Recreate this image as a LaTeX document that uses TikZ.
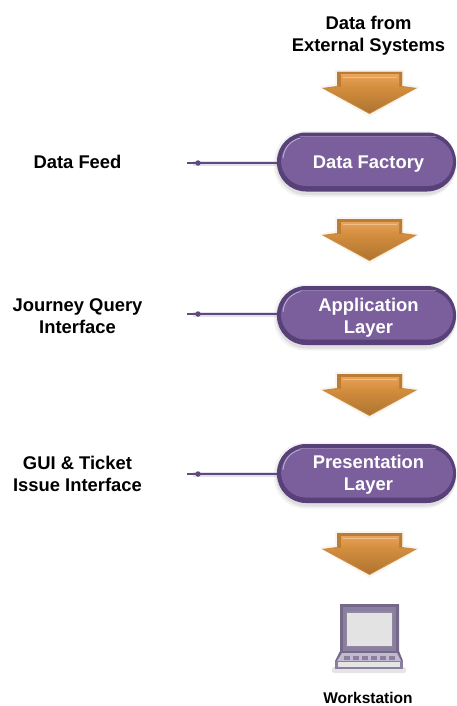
\documentclass[tikz,border=0pt]{standalone}
\usepackage{fontspec}
\setmainfont{Liberation Sans}
\usetikzlibrary{calc}
\definecolor{pillmain}{HTML}{7A5F9C}
\definecolor{pilldark}{HTML}{574178}
\definecolor{pilllight}{HTML}{B9A9CE}
\definecolor{arrowmain}{HTML}{D48E3E}
\definecolor{arrowdark}{HTML}{AE7430}
\definecolor{arrowlight}{HTML}{E8A25A}
\definecolor{wirecol}{HTML}{5E4A80}
\definecolor{lapframe}{HTML}{8A7F9E}
\definecolor{lapdark}{HTML}{75698A}
\definecolor{lapbase}{HTML}{C2BBCF}
\tikzset{
  x=1pt,y=-1pt,
  pillbody/.style={rectangle,rounded corners=29pt,fill=pilldark,draw=none,minimum width=179pt,minimum height=59pt,inner sep=0pt},
  lab/.style={font=\bfseries\fontsize{18.4}{22}\selectfont,align=center,text=black,inner sep=0pt},
  pilltext/.style={font=\bfseries\fontsize{18.4}{22}\selectfont,align=center,text=white,inner sep=0pt},
  wire/.style={draw=wirecol,line width=1.1pt},
  wirehalo/.style={draw=wirecol,line width=5pt,opacity=.16},
  blip/.style={circle,fill=wirecol,minimum size=5.5pt,inner sep=0pt}
}
\newcommand{\downarrowshape}[1]{%
  \begin{scope}[shift={(0,#1)}]
    \fill[arrowdark,opacity=.08] (335,-2) -- (404,-2) -- (404,12) -- (420,15) -- (369.5,45) -- (319,15) -- (335,12) -- cycle;
    \fill[arrowmain!80!arrowdark] (337,0) -- (402,0) -- (402,14) -- (417,16) -- (369.5,42) -- (322,16) -- (337,14) -- cycle;
    \fill[arrowdark!65!arrowmain] (337,0) -- (402,0) -- (402,14) -- (399,15) -- (399,3) -- (341,3) -- (341,15) -- (337,14) -- cycle;
    \shade[top color=arrowmain,bottom color=arrowdark] (326,16.5) -- (341,15) -- (399,15) -- (413,16.5) -- (369.5,41) -- cycle;
    \shade[top color=arrowlight,bottom color=arrowmain] (341,3) -- (399,3) -- (399,15) -- (341,15) -- cycle;
    \draw[arrowlight!70!white,line width=.5pt] (343,5) -- (397,5);
  \end{scope}}
\newcommand{\pillshape}[2]{% centre y, name
  \fill[black,opacity=.05,rounded corners=31pt] (274,#1-31) rectangle (456,#1+35);
  \fill[black,opacity=.08,rounded corners=30pt] (276,#1-29) rectangle (456,#1+33);
  \node[pillbody] (#2) at (366.5,#1) {};
  \fill[pillmain,rounded corners=25pt] (281,#1-25) rectangle (453,#1+24);
  \draw[pilllight,line width=1pt,line cap=round] (283,#1-4) .. controls (284,#1-14) and (290,#1-21) .. (300,#1-24);
  \draw[pilllight!35!pillmain,line width=.8pt] (300,#1-25.5) -- (436,#1-25.5);
}
\begin{document}
\begin{tikzpicture}
\useasboundingbox (0,0) rectangle (456,706);
\fill[white] (0,0) rectangle (456,706);
\node[lab] (src) at (368.5,35.3) {Data from\\External Systems};
\node[lab,anchor=base] (feedlab) at (77.5,168) {Data Feed};
\node[lab] (jqlab) at (77.5,316.3) {Journey Query\\Interface};
\node[lab] (guilab) at (77.5,474.4) {GUI \& Ticket\\Issue Interface};
\downarrowshape{72}
\downarrowshape{219}
\downarrowshape{374}
\downarrowshape{533}
\coordinate (e1) at (187,163);
\coordinate (e2) at (187,314);
\coordinate (e3) at (187,474);
\pillshape{162}{df}
\pillshape{315.5}{al}
\pillshape{473.5}{pl}
\foreach \en/\pn in {e1/df,e2/al,e3/pl}{
  \draw[wirehalo] ($(\en)+(6,0)$) -- (\en -| \pn.west);
  \draw[wire] (\en) -- (\en -| \pn.west);
}
\node[blip] (b1) at (198,163) {};
\node[blip] (b2) at (198,314) {};
\node[blip] (b3) at (198,474) {};
\node[pilltext,anchor=base] (dft) at (368.5,168) {Data Factory};
\node[pilltext] (alt) at (368.5,317.7) {Application\\Layer};
\node[pilltext] (plt) at (368.5,474.3) {Presentation\\Layer};
% workstation
\fill[black,opacity=.10,rounded corners=2pt] (332,667) rectangle (406,673);
\fill[lapframe,rounded corners=1pt] (340,604) rectangle (399,653);
\fill[lapdark] (340,604) rectangle (399,607);
\fill[lapdark] (340,604) rectangle (343,653);
\fill[lapdark] (396,604) rectangle (399,653);
\fill[lapdark!80!white] (346,611) rectangle (393,647);
\fill[black!11] (347,613) rectangle (392,646);
\fill[lapdark] (340,651) -- (399,651) -- (403,661) -- (335,661) -- cycle;
\fill[lapbase] (342,653) -- (397,653) -- (401,661) -- (337,661) -- cycle;
\fill[lapframe] (335,661) -- (403,661) -- (403,669) -- (335,669) -- cycle;
\fill[black!10] (338,661.5) rectangle (400,666.5);
\foreach \kx in {344,353,362,371,380,389}
  \fill[lapframe] (\kx,655.5) rectangle (\kx+6,659.5);
\node[font=\bfseries\fontsize{15.5}{18}\selectfont,inner sep=0pt,anchor=base] (wk) at (368,703.5) {Workstation};
\end{tikzpicture}
\end{document}
